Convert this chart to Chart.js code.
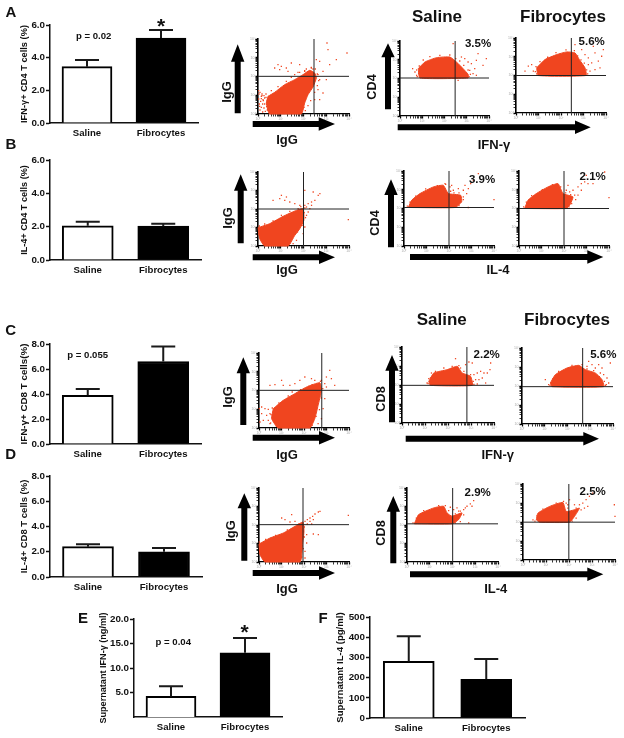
<!DOCTYPE html>
<html><head><meta charset="utf-8">
<script src="https://cdn.jsdelivr.net/npm/chart.js@4"></script>
<style>
html,body{margin:0;padding:0;background:#fff;width:624px;height:738px;overflow:hidden}
canvas{position:absolute;display:block}
svg{position:absolute;left:0;top:0}
.t{position:absolute;font-family:"Liberation Sans",Arial,sans-serif;font-weight:bold;color:#111;white-space:nowrap;transform:translate(-50%,-50%);line-height:1}
.v{transform:translate(-50%,-50%) rotate(-90deg)}
</style></head><body>
<script>
// ---------- bar chart data ----------
const categories = ['Saline','Fibrocytes'];
const valuesA = [3.45,5.2],  errTopA = [3.85,5.7],  ticksA = [0,2,4,6];
const valuesB = [2.05,2.03], errTopB = [2.3,2.18],  ticksB = [0,2,4,6];
const valuesC = [3.9,6.6],   errTopC = [4.4,7.8],   ticksC = [0,2,4,6,8];
const valuesD = [2.4,2.0],   errTopD = [2.6,2.3],   ticksD = [0,2,4,6,8];
const valuesE = [4.2,13.1],  errTopE = [6.3,16.1],  ticksE = [5,10,15,20];
const valuesF = [280,192],   errTopF = [405,292],   ticksF = [0,100,200,300,400,500];

// ---------- flow cytometry plots: dense region outline, outlying events, quadrant gates ----------
const blob1 = [[30,53],[50,65],[80,88],[110,103],[135,118],[155,131],[170,123],[175,108],[165,81],[150,58],[140,33],[130,0],[35,0],[25,33]];
const dots1 = [[60,148],[50,138],[70,143],[65,133],[85,138],[100,153],[90,128],[125,148],[140,128],[175,163],[185,158],[207,213],[210,193],[267,183],[235,163],[215,148],[195,128],[180,118],[205,103],[185,103],[180,73],[195,63],[185,43],[170,43],[15,43],[10,53],[5,23],[145,135],[160,140],[150,125],[165,135],[120,125],[110,118],[3,60],[8,38],[14,30],[20,48],[6,12],[18,18],[22,8],[12,55],[2,45],[2,70],[6,65],[12,60],[18,55],[24,50],[4,30],[10,20],[16,40],[20,30],[26,22],[28,12],[14,6],[30,40],[24,60],[10,46],[40,70],[60,82],[85,98],[100,110],[125,125],[140,130],[160,138],[172,135],[178,120],[182,100],[178,85],[170,65],[158,40],[150,25],[142,10],[138,20]];
const blob2 = [[55,142],[75,162],[110,175],[150,177],[170,162],[190,142],[205,125],[205,114],[60,114]];
const dots2 = [[38,142],[50,122],[45,132],[160,217],[185,177],[195,172],[205,162],[215,157],[230,167],[225,142],[235,187],[210,137],[220,127],[175,107],[230,122],[260,172],[250,152],[50,138],[58,150],[70,168],[90,178],[120,182],[150,183],[168,172],[180,165],[192,152],[205,138],[212,125],[208,118],[52,118],[56,128]];
const blob3 = [[62,136],[87,161],[122,176],[152,184],[177,181],[190,161],[207,136],[210,113],[67,113]];
const dots3 = [[37,141],[47,146],[27,126],[52,126],[177,206],[197,191],[207,176],[217,166],[227,151],[237,181],[247,156],[257,171],[222,126],[237,131],[217,146],[262,191],[232,201],[252,136],[58,125],[60,140],[72,155],[95,168],[120,182],[150,190],[175,188],[185,172],[195,160],[205,150],[212,130],[215,118],[62,118],[64,130]];
const blob4 = [[0,55],[35,67],[75,89],[110,105],[135,112],[137,77],[125,52],[110,32],[90,0],[20,0],[5,22]];
const dots4 = [[140,122],[150,127],[160,132],[170,137],[180,152],[185,157],[140,167],[165,162],[70,152],[65,142],[80,137],[85,147],[45,137],[95,132],[110,127],[125,122],[155,112],[145,117],[160,122],[145,92],[270,79],[140,57],[135,37],[150,102],[115,17],[105,7],[100,22],[4,60],[20,66],[45,75],[70,92],[95,104],[120,112],[138,100],[142,85],[132,62],[118,42],[100,20],[95,8],[15,10],[3,35],[140,114],[128,118]];
const blob5 = [[13,116],[23,138],[48,158],[88,178],[118,183],[133,158],[170,153],[173,133],[153,116]];
const dots5 = [[138,178],[123,188],[148,168],[163,173],[178,168],[183,183],[193,173],[200,188],[208,198],[223,218],[188,158],[178,148],[270,140],[193,116],[143,183],[10,120],[18,132],[35,150],[65,172],[100,182],[125,186],[140,165],[150,160],[165,160],[178,140],[165,122],[158,118]];
const blob6 = [[17,113],[27,138],[52,158],[87,178],[117,188],[132,158],[162,148],[152,123],[142,113]];
const dots6 = [[142,168],[152,163],[162,168],[177,178],[187,188],[197,193],[207,188],[222,188],[167,153],[177,153],[187,168],[270,146],[147,183],[257,223],[202,213],[14,118],[22,132],[38,152],[70,170],[100,185],[125,178],[140,160],[155,155],[170,140],[158,128],[150,118]];
const blob7 = [[43,58],[73,83],[108,103],[143,123],[183,136],[188,113],[178,68],[168,28],[153,0],[58,0],[38,28]];
const dots7 = [[1,58],[8,63],[18,58],[28,56],[8,43],[23,38],[33,43],[13,23],[33,13],[28,23],[3,18],[68,143],[73,128],[33,128],[48,130],[93,128],[108,133],[123,143],[138,153],[158,148],[188,143],[198,133],[203,153],[213,173],[218,148],[228,128],[203,123],[198,88],[193,58],[188,28],[178,13],[168,143],[183,128],[36,40],[40,60],[60,75],[88,96],[125,115],[160,130],[185,140],[192,118],[188,90],[182,55],[172,35],[160,8],[52,6],[35,15],[100,108],[150,125]];
const blob8 = [[80,125],[95,150],[135,160],[165,170],[180,150],[205,140],[210,113],[85,113]];
const dots8 = [[160,193],[175,165],[190,175],[200,183],[210,180],[215,145],[225,150],[235,155],[245,150],[220,130],[230,130],[240,135],[255,150],[265,180],[263,160],[75,120],[80,133],[250,120],[225,117],[78,118],[85,135],[100,155],[125,165],[150,170],[170,172],[185,155],[205,145],[213,125],[215,116],[88,150]];
const blob9 = [[85,123],[100,148],[135,168],[170,176],[190,163],[220,153],[240,133],[245,112],[90,112]];
const dots9 = [[70,133],[80,118],[200,188],[210,178],[220,168],[235,153],[245,148],[255,138],[260,123],[265,183],[240,168],[230,178],[195,173],[253,118],[84,116],[92,135],[110,158],[150,176],[180,178],[195,165],[215,160],[232,142],[247,128],[250,116]];
const blob10 = [[0,54],[33,72],[73,87],[108,107],[132,120],[135,92],[131,57],[123,0],[18,0],[3,22]];
const dots10 = [[138,122],[145,127],[153,132],[161,137],[168,144],[178,150],[183,152],[153,122],[163,127],[145,114],[158,114],[68,132],[78,127],[98,142],[93,120],[163,84],[178,82],[143,82],[143,57],[138,32],[268,140],[138,12],[108,122],[1,60],[20,68],[50,80],[85,96],[120,114],[136,105],[136,75],[133,40],[128,15],[14,5],[2,35]];
const blob11 = [[22,115],[35,143],[80,163],[110,168],[120,148],[135,138],[165,148],[155,128],[135,115]];
const dots11 = [[170,158],[180,168],[190,175],[200,185],[195,168],[175,163],[160,153],[150,163],[140,158],[130,165],[120,118],[130,123],[185,118],[155,153],[18,118],[28,132],[50,155],[95,170],[115,170],[125,155],[145,145],[170,142],[160,122],[145,118]];
const blob12 = [[40,120],[45,140],[80,160],[120,172],[130,145],[155,150],[170,155],[155,130],[140,113],[50,113]];
const dots12 = [[30,120],[135,165],[140,180],[155,165],[170,165],[180,170],[190,180],[200,190],[210,200],[195,160],[275,165],[277,130],[185,155],[130,170],[36,116],[42,132],[60,152],[100,170],[122,175],[135,155],[160,155],[175,150],[160,125],[148,116]];
const gateX = [168,166,166,136,135,135,189,194,182,132,137,138];
const gateY = [113,114,113,111,116,113,113,113,112,112,115,113];
const flowTickLabels = ['10⁰','10¹','10²','10³','10⁴'];

// ---------- setup ----------
const FONT = '"Liberation Sans",Arial,sans-serif';
const INK = '#111', RED = '#F0451F';
Chart.defaults.animation = false;
Chart.defaults.responsive = false;
Chart.defaults.font.family = FONT;
Chart.defaults.plugins.legend.display = false;
Chart.defaults.plugins.tooltip.enabled = false;

function addCanvas(l,t,w,h){
  const c=document.createElement('canvas');
  c.width=w;c.height=h;c.style.left=l+'px';c.style.top=t+'px';c.style.width=w+'px';c.style.height=h+'px';
  document.body.appendChild(c);return c;
}
const errorBars = {
  id:'errorBars',
  afterDatasetsDraw(chart,a,opts){
    const {ctx,scales:{y}}=chart, meta=chart.getDatasetMeta(0);
    ctx.save();ctx.strokeStyle='#1a1a1a';ctx.lineWidth=2;
    opts.tops.forEach((top,i)=>{
      const x=meta.data[i].x, y0=y.getPixelForValue(chart.data.datasets[0].data[i]), y1=y.getPixelForValue(top);
      ctx.beginPath();ctx.moveTo(x,y0);ctx.lineTo(x,y1);ctx.moveTo(x-12,y1);ctx.lineTo(x+12,y1);ctx.stroke();
    });
    ctx.restore();
  }
};
function barPanel(box,values,tops,ticks,title){
  const L=box.x, T=box.top-8, R=8;
  const w=box.r-box.x, h=box.bottom-box.top;
  const canvas=addCanvas(0+ (box.off||0),T,w+(L-(box.off||0))+R,h+8+22);
  const left=L-(box.off||0);
  new Chart(canvas,{
    type:'bar',
    data:{labels:categories,datasets:[{data:values,backgroundColor:['#fff','#000'],borderColor:'#000',borderWidth:2,barThickness:box.bw}]},
    options:{
      layout:{padding:{top:8,right:R,left:0,bottom:0}},
      plugins:{errorBars:{tops}},
      scales:{
        x:{grid:{display:false,drawTicks:false},border:{display:true,width:1.5,color:INK},
           ticks:{padding:5,color:INK,maxRotation:0,autoSkip:false,font:{size:9.6,weight:'bold'}},
           afterFit(s){s.height=22}},
        y:{min:box.min,max:box.max,
           afterBuildTicks(s){s.ticks=ticks.map(v=>({value:v}))},
           grid:{drawOnChartArea:false,tickLength:4,tickWidth:1.5,tickColor:INK},
           border:{display:true,width:1.5,color:INK},
           ticks:{padding:1,color:INK,font:{size:9.8,weight:'bold'},autoSkip:false,
             callback:v=>box.int?String(v):v.toFixed(1)},
           title:{display:true,text:title,color:INK,font:{size:box.ts,weight:'bold'},padding:{top:box.tx-(box.off||0)-5.2,bottom:0}},
           afterFit(s){s.width=left}}
      }
    },
    plugins:[errorBars]
  });
}
barPanel({x:50,r:198,top:25,bottom:123,min:0,max:6,bw:50,tx:24,ts:9.25},valuesA,errTopA,ticksA,'IFN-γ+ CD4 T cells (%)');
barPanel({x:50,r:201,top:160,bottom:260,min:0,max:6,bw:51,tx:24,ts:9.1},valuesB,errTopB,ticksB,'IL-4+ CD4 T cells (%)');
barPanel({x:50,r:201,top:344,bottom:444,min:0,max:8,bw:51,tx:24,ts:9.8},valuesC,errTopC,ticksC,'IFN-γ+ CD8 T cells(%)');
barPanel({x:50,r:202,top:476,bottom:577,min:0,max:8,bw:51,tx:24,ts:9.5},valuesD,errTopD,ticksD,'IL-4+ CD8 T cells (%)');
barPanel({x:134,r:282,top:619,bottom:717,min:0,max:20,bw:50,tx:103,off:90,ts:9.1},valuesE,errTopE,ticksE,'Supernatant IFN-γ (ng/ml)');
barPanel({x:370,r:525,top:617,bottom:718,min:0,max:500,bw:51,tx:340,off:325,int:true,ts:9.6},valuesF,errTopF,ticksF,'Supernatant IL-4 (pg/ml)');

// ---------- flow plots ----------
function flowPanel(px,py,W,H,blob,dots,gx,gy){
  const pad=8;
  const bw=Math.round(W/3), bh=Math.round(H/3);
  const canvas=addCanvas(Math.round(px)-pad,Math.round(py)-6,bw+pad+6,bh+6+pad);
  const logTicks=(max)=>{const out=[];for(let d=0;d<4;d++)for(let k=1;k<10;k++)out.push({value:max/4*(d+Math.log10(k)),major:k===1});out.push({value:max,major:true});return out;};
  const pts=a=>a.map(p=>({x:p[0],y:p[1]}));
  const tickOpts={font:{size:3.5},color:'#aaa',padding:0,autoSkip:false,maxRotation:0,
      callback(v,i){return i%9===0?flowTickLabels[i/9]:''}};
  const gridOpts={drawOnChartArea:false,tickLength:2.5,tickColor:'#000',tickWidth:c=>(c.index%9===0?1.3:0.8)};
  new Chart(canvas,{
    type:'scatter',
    data:{datasets:[
      {data:pts([[gx,0],[gx,H]]),showLine:true,borderColor:'#222',borderWidth:1,pointRadius:0},
      {data:pts([[0,gy],[W,gy]]),showLine:true,borderColor:'#222',borderWidth:1,pointRadius:0},
      {data:pts(blob.concat([blob[0]])),showLine:true,fill:'shape',backgroundColor:RED,borderColor:RED,borderWidth:1,pointRadius:0,tension:0.15},
      {data:pts(dots),pointRadius:0.9,pointStyle:'rect',backgroundColor:RED,borderWidth:0}
    ]},
    options:{
      layout:{padding:{top:6,right:6,left:0,bottom:0}},
      clip:false,
      scales:{
        x:{type:'linear',min:0,max:W,afterBuildTicks(s){s.ticks=logTicks(W)},grid:gridOpts,border:{width:1.2,color:'#000'},ticks:tickOpts,afterFit(s){s.height=pad}},
        y:{type:'linear',min:0,max:H,afterBuildTicks(s){s.ticks=logTicks(H)},grid:gridOpts,border:{width:1.6,color:'#000'},ticks:tickOpts,afterFit(s){s.width=pad}}
      }
    }
  });
}
const R1=[220,0],R2=[220,140],R3=[220,305],R4=[220,465];
const fp=(o,x0,x1,y0,y1,b,d,i)=>flowPanel(o[0]+x0/3,o[1]+y0/3,x1-x0,y1-y0,b,d,gateX[i],gateY[i]);
fp(R1,115,388,118,343,blob1,dots1,0);
fp(R1,540,808,122,347,blob2,dots2,1);
fp(R1,888,1158,115,341,blob3,dots3,2);
fp(R2,115,387,95,317,blob4,dots4,3);
fp(R2,552,822,92,318,blob5,dots5,4);
fp(R2,898,1168,92,318,blob6,dots6,5);
fp(R3,117,388,143,368,blob7,dots7,6);
fp(R3,545,820,127,355,blob8,dots8,7);
fp(R3,905,1178,130,358,blob9,dots9,8);
fp(R4,117,387,70,292,blob10,dots10,9);
fp(R4,560,833,70,293,blob11,dots11,10);
fp(R4,910,1187,58,285,blob12,dots12,11);

// ---------- arrows ----------
const NS='http://www.w3.org/2000/svg';
const svg=document.createElementNS(NS,'svg');svg.setAttribute('width',624);svg.setAttribute('height',738);
document.body.appendChild(svg);
function poly(p){const e=document.createElementNS(NS,'polygon');e.setAttribute('points',p.map(q=>q.join(',')).join(' '));e.setAttribute('fill','#000');svg.appendChild(e);}
function up(x,b,t,base){poly([[x-3,b],[x-3,base],[x-6.7,base],[x,t],[x+6.7,base],[x+3,base],[x+3,b]]);}
function right(l,r,y,base){poly([[l,y-3],[base,y-3],[base,y-6.7],[r,y],[base,y+6.7],[base,y+3],[l,y+3]]);}
up(237.7,113.3,44.3,61.7); right(252.7,335,124,318.7);
up(388,109.3,43.3,57.3);   right(397.7,590.7,127.3,575);
up(240.7,243.3,174.3,190.7); right(252.7,335,257.3,319);
up(391,247.3,179.3,195);   right(410,603.3,257,587.3);
up(243.3,425,357.3,373.3); right(252.7,335,437.7,319);
up(392,422.3,355,370.7);   right(405.7,599,438.7,583.3);
up(244.3,560.7,493.3,508.3); right(252.7,335,573,319);
up(393.3,563.3,496,511.7); right(410,603.3,574.3,587.3);

// ---------- text ----------
function T(s,x,y,size,vert){const d=document.createElement('div');d.className='t'+(vert?' v':'');d.textContent=s;d.style.left=x+'px';d.style.top=y+'px';d.style.fontSize=size+'px';document.body.appendChild(d);}
[['A',11,11],['B',11,143],['C',10.7,329],['D',10.7,453],['E',83,617],['F',323,617]].forEach(a=>T(a[0],a[1],a[2],15));
T('p = 0.02',93.7,36,9.6);T('*',161,25,21);
T('p = 0.055',87.7,355,9.6);
T('p = 0.04',173.3,642.3,9.6);T('*',244.7,631,21);
T('Saline',437,16,17);T('Fibrocytes',563,16,17);
T('Saline',441.7,319,17);T('Fibrocytes',567,319,17);
[[226,92],[226.7,218],[227,397],[230,530.7]].forEach(a=>T('IgG',a[0],a[1],13,true));
[[287,139],[287,269],[287,454],[287,588]].forEach(a=>T('IgG',a[0],a[1],13));
T('CD4',371.7,86.7,12.7,true);T('CD4',375,223,12.7,true);
T('CD8',380.7,399,12.7,true);T('CD8',380.7,533,12.7,true);
T('IFN-γ',494,144,13);T('IL-4',498,269,13);T('IFN-γ',497.7,454,13);T('IL-4',495.7,587.7,13);
[['3.5%',478,44],['5.6%',591.7,42.3],['3.9%',482,180],['2.1%',592.7,177.3],['2.2%',486.7,355],['5.6%',603.3,355],['2.9%',477.7,493],['2.5%',592.7,491.7]].forEach(a=>T(a[0],a[1],a[2],11.5));
</script>
</body></html>
